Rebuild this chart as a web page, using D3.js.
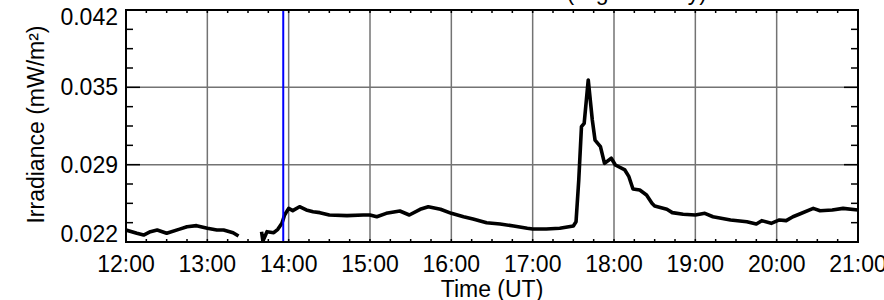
<!DOCTYPE html>
<html>
<head>
<meta charset="utf-8">
<script src="https://cdn.jsdelivr.net/npm/d3@7"></script>
<style>
  body { margin: 0; background: #fff; }
  svg { display: block; font-family: "Liberation Sans", Arial, sans-serif; }
</style>
</head>
<body>
<svg id="canvas" width="884" height="300"></svg>
<script>
// time axis range and tick labels
let xStart = '12:00', xEnd = '21:00';
let xTickLabels = ['12:00', '13:00', '14:00', '15:00', '16:00', '17:00', '18:00', '19:00', '20:00', '21:00'];
// irradiance axis range and tick labels
let yDomain = [0.022, 0.042];
let yTickLabels = ['0.022', '0.029', '0.035', '0.042'];
// marker time (blue line)
let markerTime = '13:56';

// null = data gap
let times = ['12:00', '12:08', '12:13', '12:18', '12:23', '12:30', '12:39', '12:45', '12:52', '13:00',
  '13:07', '13:12', '13:19', '13:23', '13:30', '13:40', '13:41', '13:44', '13:49', '13:52',
  '13:55', '13:57', '14:00', '14:03', '14:08', '14:13', '14:18', '14:23', '14:30', '14:43',
  '14:55', '15:00', '15:05', '15:12', '15:22', '15:29', '15:37', '15:43', '15:52', '16:00',
  '16:09', '16:16', '16:26', '16:36', '16:46', '16:56', '17:00', '17:10', '17:20', '17:30',
  '17:32', '17:34', '17:36', '17:38', '17:41', '17:44', '17:46', '17:50', '17:53', '17:58',
  '18:01', '18:08', '18:11', '18:14', '18:19', '18:24', '18:28', '18:30', '18:39', '18:43',
  '18:51', '19:00', '19:07', '19:13', '19:26', '19:38', '19:45', '19:49', '19:56', '20:02',
  '20:07', '20:12', '20:17', '20:27', '20:32', '20:41', '20:49', '21:00'];
let irradiance = [0.02303, 0.02275, 0.02260, 0.02289, 0.02303, 0.02275, 0.02309, 0.02332, 0.02341, 0.02318,
  0.02303, 0.02303, 0.02280, 0.02252, null, 0.02289, 0.02209, 0.02289, 0.02280, 0.02309,
  0.02361, 0.02433, 0.02490, 0.02470, 0.02504, 0.02476, 0.02461, 0.02453, 0.02433, 0.02427,
  0.02433, 0.02433, 0.02418, 0.02447, 0.02467, 0.02433, 0.02482, 0.02504, 0.02482, 0.02447,
  0.02418, 0.02398, 0.02366, 0.02355, 0.02338, 0.02318, 0.02312, 0.02312, 0.02318, 0.02338,
  0.02375, 0.02734, 0.03194, 0.03223, 0.03597, 0.03252, 0.03079, 0.03022, 0.02878, 0.02922,
  0.02864, 0.02821, 0.02763, 0.02657, 0.02648, 0.02605, 0.02534, 0.02510, 0.02482, 0.02453,
  0.02439, 0.02433, 0.02447, 0.02418, 0.02390, 0.02375, 0.02355, 0.02384, 0.02361, 0.02390,
  0.02384, 0.02418, 0.02441, 0.02490, 0.02470, 0.02476, 0.02490, 0.02476];

let margin = {top: 10, right: 26, bottom: 58, left: 126};
let width = 884 - margin.left - margin.right;
let height = 300 - margin.top - margin.bottom;
let parseTime = d3.utcParse('%H:%M');

let canvas = d3.select('#canvas');
let plot = canvas.append('g')
                 .attr('transform', 'translate(' + margin.left + ',' + margin.top + ')');

let xScale = d3.scaleUtc()
               .domain([parseTime(xStart), parseTime(xEnd)])
               .range([0, width]);
let yScale = d3.scaleLinear()
               .domain(yDomain)
               .range([height, 0]);

let yMajor = yTickLabels.map((d, i) => yDomain[0] + i * (yDomain[1] - yDomain[0]) / (yTickLabels.length - 1));
let yStep = (yDomain[1] - yDomain[0]) / (yTickLabels.length - 1) / 4;
let yMinor = d3.range(yDomain[0], yDomain[1] + yStep / 2, yStep);
let xMajor = xTickLabels.map(parseTime);
let xMinor = d3.utcMinute.every(15).range(parseTime(xStart), parseTime(xEnd));

//grid lines
plot.append('g').selectAll('line')
    .data(xMajor)
    .enter().append('line')
    .attr('x1', d => xScale(d)).attr('x2', d => xScale(d))
    .attr('y1', 0).attr('y2', height)
    .attr('stroke', '#737373').attr('stroke-width', 1.5);
plot.append('g').selectAll('line')
    .data(yMajor)
    .enter().append('line')
    .attr('x1', 0).attr('x2', width)
    .attr('y1', d => yScale(d)).attr('y2', d => yScale(d))
    .attr('stroke', '#737373').attr('stroke-width', 1.5);

//minor ticks on both sides
let ticks = plot.append('g').attr('stroke', '#000').attr('stroke-width', 1.5);
yMinor.forEach(v => {
    let len = yMajor.some(m => Math.abs(m - v) < 1e-9) ? 14 : 7;
    ticks.append('line').attr('x1', 0).attr('x2', len).attr('y1', yScale(v)).attr('y2', yScale(v));
    ticks.append('line').attr('x1', width - len).attr('x2', width).attr('y1', yScale(v)).attr('y2', yScale(v));
});
xMinor.forEach(t => {
    ticks.append('line').attr('x1', xScale(t)).attr('x2', xScale(t)).attr('y1', 0).attr('y2', 3);
    ticks.append('line').attr('x1', xScale(t)).attr('x2', xScale(t)).attr('y1', height - 3).attr('y2', height);
});

//the irradiance curve
let series = times.map((t, i) => ({time: parseTime(t), value: irradiance[i]}));
plot.append('clipPath').attr('id', 'clip')
    .append('rect').attr('width', width).attr('height', height);
let line = d3.line()
             .defined(d => d.value !== null)
             .x(d => xScale(d.time))
             .y(d => yScale(d.value));
plot.append('path')
    .datum(series)
    .attr('clip-path', 'url(#clip)')
    .attr('d', line)
    .attr('fill', 'none')
    .attr('stroke', '#000')
    .attr('stroke-width', 3.6)
    .attr('stroke-linejoin', 'round');

//blue marker line
plot.append('line')
    .attr('x1', xScale(parseTime(markerTime))).attr('x2', xScale(parseTime(markerTime)))
    .attr('y1', 0).attr('y2', height)
    .attr('stroke', '#0000ff').attr('stroke-width', 2);

//frame
plot.append('rect')
    .attr('width', width).attr('height', height)
    .attr('fill', 'none').attr('stroke', '#000').attr('stroke-width', 2);

//tick labels
plot.append('g').selectAll('text')
    .data(xMajor)
    .enter().append('text')
    .attr('x', d => xScale(d))
    .attr('y', height + 30)
    .attr('text-anchor', 'middle')
    .attr('font-size', 23)
    .text((d, i) => xTickLabels[i]);
plot.append('g').selectAll('text')
    .data(yMajor)
    .enter().append('text')
    .attr('x', -8)
    .attr('y', d => Math.min(Math.max(yScale(d), 7), height - 8))
    .attr('dy', '0.35em')
    .attr('text-anchor', 'end')
    .attr('font-size', 23)
    .text((d, i) => yTickLabels[i]);

//axis titles
canvas.append('text')
      .attr('x', 492).attr('y', 296.5)
      .attr('text-anchor', 'middle')
      .attr('font-size', 23)
      .text('Time (UT)');
canvas.append('text')
      .attr('transform', 'translate(43.5,124.5) rotate(-90)')
      .attr('text-anchor', 'middle')
      .attr('font-size', 23)
      .text('Irradiance (mW/m²)');
//title, mostly above the visible area
canvas.append('text')
      .attr('x', 707).attr('y', -0.5)
      .attr('text-anchor', 'end')
      .attr('font-size', 23)
      .text('Irradiance (High Activity)');
</script>
</body>
</html>
